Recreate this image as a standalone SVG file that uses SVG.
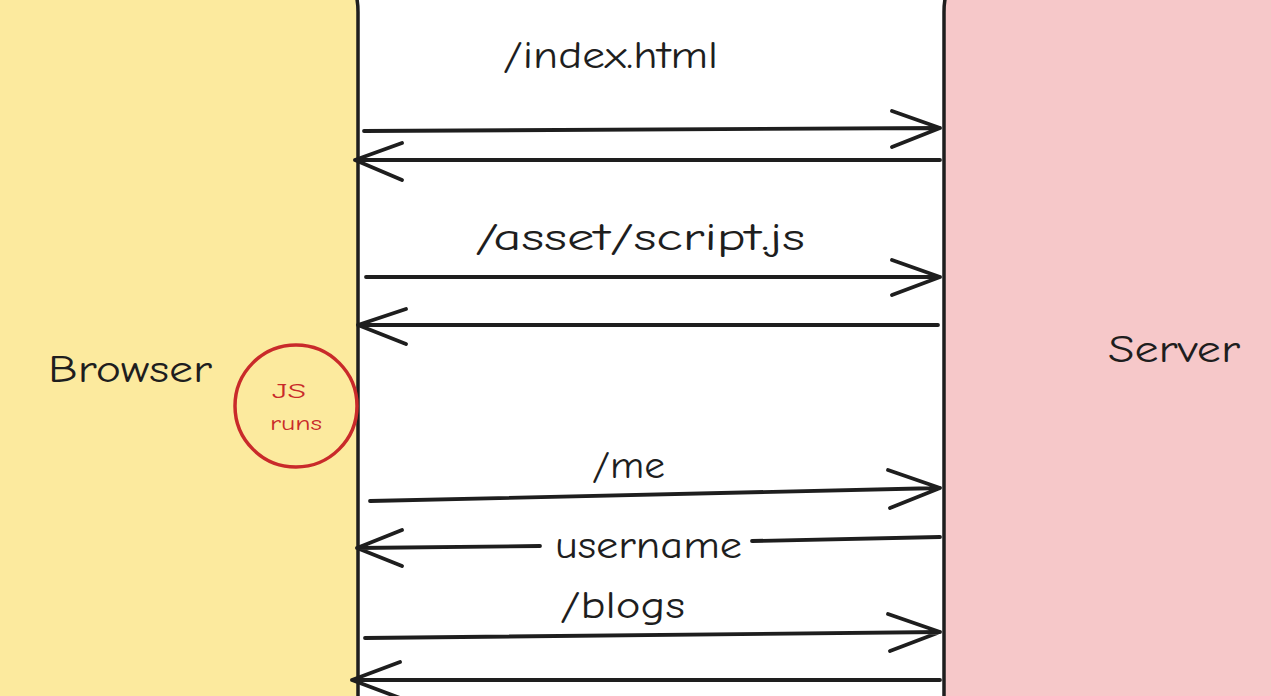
<svg xmlns="http://www.w3.org/2000/svg" width="1271" height="696" viewBox="0 0 1271 696">
<style>
.box{stroke:#1e1e1e;stroke-width:3.5}
.ln{fill:none;stroke:#1e1e1e;stroke-width:3.8;stroke-linecap:round;stroke-linejoin:round}
.lbl{font-family:"Comic Neue","Liberation Sans",sans-serif;fill:#1e1e1e}
.red{font-family:"Comic Neue","Liberation Sans",sans-serif;fill:#c92a2a;font-size:21px}
</style>
<rect width="1271" height="696" fill="#ffffff"/>
<g id="browser">
<path class="box" d="M-10,-20 H338 Q358,-20 358,12 V710 H-10 Z" fill="#fcea9e"/>
<text class="lbl" x="48" y="382" font-size="38" textLength="164" lengthAdjust="spacingAndGlyphs">Browser</text>
</g>
<g id="server">
<path class="box" d="M1290,-20 H964 Q944,-20 944,12 V710 H1290 Z" fill="#f6c8c9"/>
<text class="lbl" x="1108" y="362" font-size="38" textLength="132" lengthAdjust="spacingAndGlyphs">Server</text>
</g>
<g id="js-runs">
<circle cx="296" cy="406" r="61" fill="none" stroke="#c92a2a" stroke-width="3.5"/>
<text class="red" x="289" y="398" text-anchor="middle" textLength="34" lengthAdjust="spacingAndGlyphs">JS</text>
<text class="red" x="296" y="430" text-anchor="middle" textLength="52" lengthAdjust="spacingAndGlyphs">runs</text>
</g>
<g id="connectors">
<path class="ln" d="M364,131 L940,128 M892,111 L940,128 L892,147"/>
<path class="ln" d="M940,160 L355,160 M402,143 L355,160 L402,180"/>
<path class="ln" d="M366,277 L940,277 M892,260 L940,277 L892,295"/>
<path class="ln" d="M938,325 L358,325 M406,309 L358,325 L406,344"/>
<path class="ln" d="M370,501 L940,488 M888,470 L940,488 L890,508"/>
<path class="ln" d="M540,546 L357,548 M752,541 L940,537 M402,530 L357,548 L402,566"/>
<path class="ln" d="M365,638 L940,632 M888,614 L940,632 L890,651"/>
<path class="ln" d="M940,680 L352,680 M400,662 L352,680 L400,698"/>
</g>
<g id="labels">
<text class="lbl" x="503" y="68" font-size="38" textLength="215" lengthAdjust="spacingAndGlyphs">/index.html</text>
<text class="lbl" x="475" y="250" font-size="38" textLength="330" lengthAdjust="spacingAndGlyphs">/asset/script.js</text>
<text class="lbl" x="592" y="478" font-size="38" textLength="73" lengthAdjust="spacingAndGlyphs">/me</text>
<text class="lbl" x="555" y="558" font-size="38" textLength="187" lengthAdjust="spacingAndGlyphs">username</text>
<text class="lbl" x="560" y="618" font-size="38" textLength="125" lengthAdjust="spacingAndGlyphs">/blogs</text>
</g>
</svg>
